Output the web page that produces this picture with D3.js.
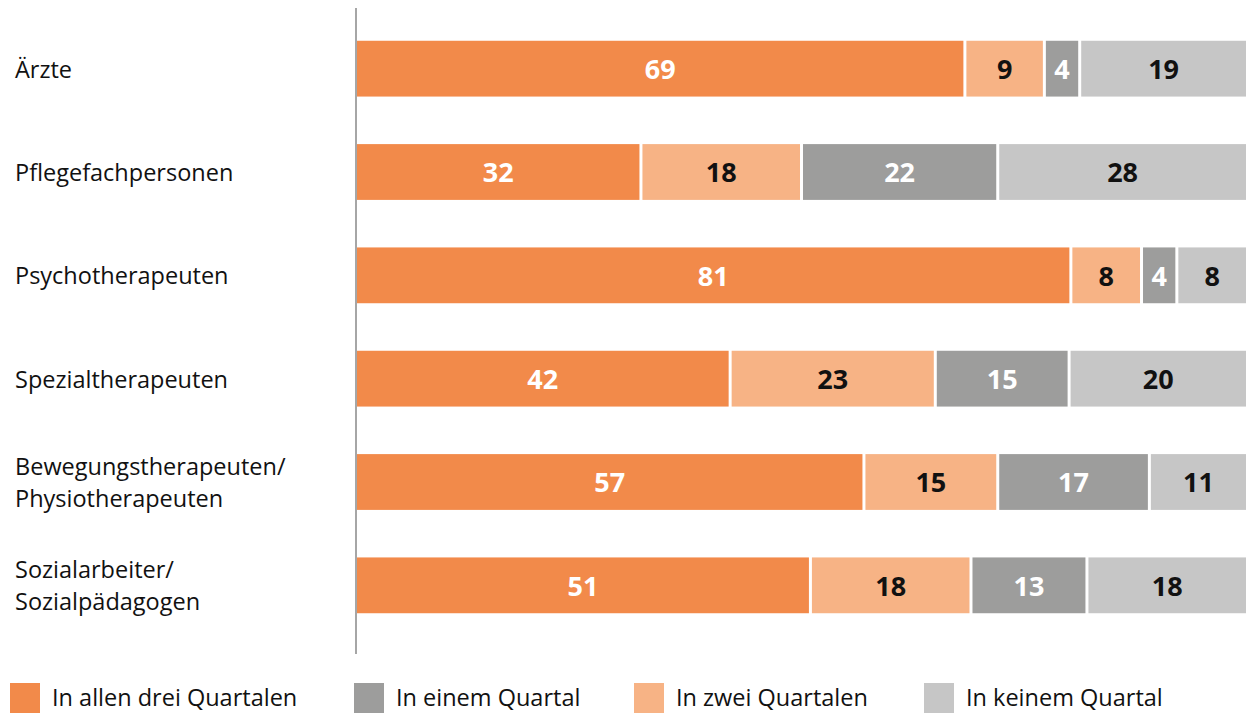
<!DOCTYPE html>
<html>
<head>
<meta charset="utf-8">
<script src="https://cdn.jsdelivr.net/npm/d3@7"></script>
<style>
  body { margin: 0; background: #fff; }
  svg { font-family: "Open Sans", "Noto Sans", sans-serif; }
</style>
</head>
<body>
<svg id="chart" width="1253" height="713"></svg>
<script>
var categories = ["Ärzte", "Pflegefachpersonen", "Psychotherapeuten", "Spezialtherapeuten",
    "Bewegungstherapeuten/|Physiotherapeuten", "Sozialarbeiter/|Sozialpädagogen"];

// shares per row (%), rounded as printed
var alleDrei = [69, 32, 81, 42, 57, 51];
var zwei = [9, 18, 8, 23, 15, 18];
var einem = [4, 22, 4, 15, 17, 13];
var keinem = [19, 28, 8, 20, 11, 18];

var seriesNames = ["In allen drei Quartalen", "In zwei Quartalen", "In einem Quartal", "In keinem Quartal"];
var seriesValues = [alleDrei, zwei, einem, keinem];
var colors = ["#f28a4a", "#f7b385", "#9d9d9c", "#c6c6c6"];
var labelColors = ["#fff", "#111", "#fff", "#111"];
var legendOrder = [0, 2, 1, 3];

var svg = d3.select("#chart");

var y = d3.scaleBand()
    .domain(categories)
    .range([17, 637])
    .paddingInner(0.46)
    .paddingOuter(0.23);

var gap = 3;

categories.forEach(function (cat, i) {
    var vals = seriesValues.map(function (s) { return s[i]; });
    var total = d3.sum(vals);
    // each row is scaled to its own total
    var x = d3.scaleLinear().domain([0, total]).range([357, 1246 + gap]);
    var acc = 0;
    vals.forEach(function (v, k) {
        var x0 = x(acc), x1 = x(acc + v);
        acc += v;
        svg.append("rect")
            .attr("x", x0)
            .attr("y", y(cat))
            .attr("width", x1 - x0 - gap)
            .attr("height", y.bandwidth())
            .attr("fill", colors[k]);
        svg.append("text")
            .attr("x", (x0 + x1 - gap) / 2)
            .attr("y", y(cat) + y.bandwidth() / 2)
            .attr("dy", "0.38em")
            .attr("text-anchor", "middle")
            .attr("font-size", 27)
            .attr("font-weight", 700)
            .attr("fill", labelColors[k])
            .text(v);
    });

    // category label, may wrap on "|"
    var lines = cat.split("|");
    var cy = y(cat) + y.bandwidth() / 2;
    var t = svg.append("text")
        .attr("x", 15)
        .attr("font-size", 23.5)
        .attr("fill", "#111");
    lines.forEach(function (ln, j) {
        t.append("tspan")
            .attr("x", 15)
            .attr("y", cy + (j - (lines.length - 1) / 2) * 32)
            .attr("dy", "0.38em")
            .text(ln);
    });
});

// vertical axis line
svg.append("line")
    .attr("x1", 356).attr("x2", 356)
    .attr("y1", 8).attr("y2", 654)
    .attr("stroke", "#a6a6a6")
    .attr("stroke-width", 2);

// legend
var legendX = [10, 354, 634, 924];
legendOrder.forEach(function (k, j) {
    var g = svg.append("g").attr("transform", "translate(" + legendX[j] + ",683)");
    g.append("rect")
        .attr("width", 30).attr("height", 30)
        .attr("fill", colors[k]);
    g.append("text")
        .attr("x", 42)
        .attr("y", 15)
        .attr("dy", "0.36em")
        .attr("font-size", 23.5)
        .attr("fill", "#111")
        .text(seriesNames[k]);
});
</script>
</body>
</html>
